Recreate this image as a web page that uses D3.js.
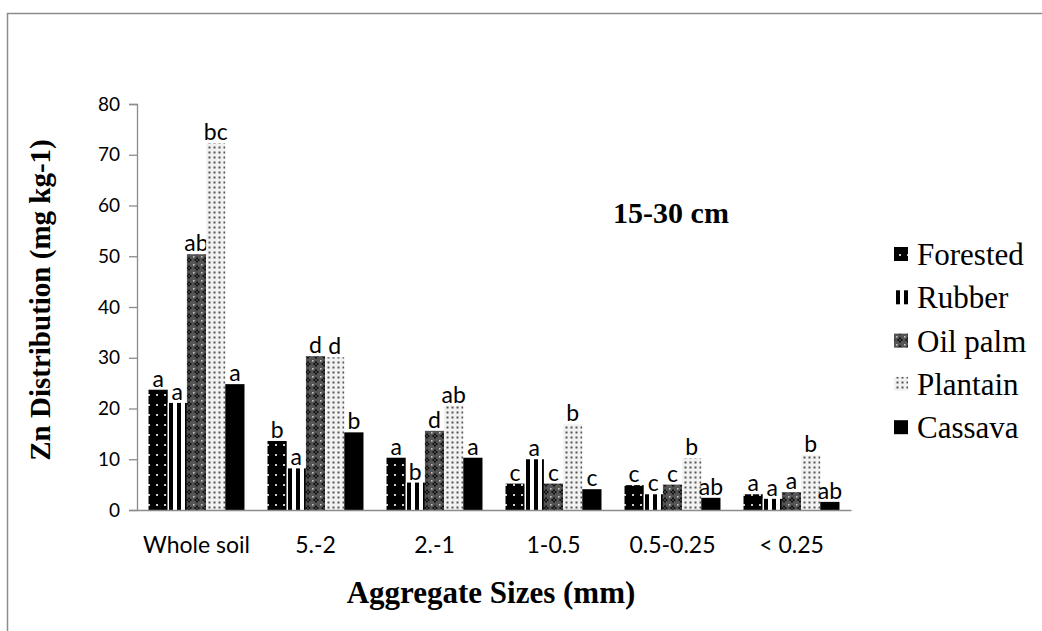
<!DOCTYPE html>
<html>
<head>
<meta charset="utf-8">
<script src="https://cdn.jsdelivr.net/npm/d3@7"></script>
<style>
  body { margin: 0; background: #fff; }
  svg { display: block; }
</style>
</head>
<body>
<svg></svg>
<script>
let width = 1042, height = 631;
let svg = d3.select("svg")
    .attr("width", width)
    .attr("height", height);

// data
var sizes = ["Whole soil", "5.-2", "2.-1", "1-0.5", "0.5-0.25", "< 0.25"];
var landUses = ["Forested", "Rubber", "Oil palm", "Plantain", "Cassava"];
var forested = [23.7, 13.6, 10.3, 5.2, 4.9, 3.1];
var rubber   = [21.1, 8.2, 5.4, 10.0, 3.1, 2.2];
var oilPalm  = [50.4, 30.3, 15.6, 5.2, 5.0, 3.5];
var plantain = [72.3, 30.1, 20.5, 16.9, 10.2, 10.8];
var cassava  = [24.8, 15.3, 10.3, 4.1, 2.4, 1.6];
var lettersForested = ["a", "b", "a", "c", "c", "a"];
var lettersRubber   = ["a", "a", "b", "a", "c", "a"];
var lettersOilPalm  = ["ab", "d", "d", "c", "c", "a"];
var lettersPlantain = ["bc", "d", "ab", "b", "b", "b"];
var lettersCassava  = ["a", "b", "a", "c", "ab", "ab"];
var yTicks = [0, 10, 20, 30, 40, 50, 60, 70, 80];

var series = [forested, rubber, oilPalm, plantain, cassava];
var letters = [lettersForested, lettersRubber, lettersOilPalm, lettersPlantain, lettersCassava];

var serif = "'Liberation Serif', 'Times New Roman', serif";
var sans = "Lato, 'Open Sans', sans-serif";

// chart frame
svg.append("path")
    .attr("d", "M7.5,631 V13.5 H1042")
    .attr("fill", "none")
    .attr("stroke", "#8c8c8c")
    .attr("stroke-width", 1.5);

// patterns
var defs = svg.append("defs");

var p0 = defs.append("pattern").attr("id", "pat0")
    .attr("patternUnits", "userSpaceOnUse").attr("width", 8).attr("height", 10);
p0.append("rect").attr("width", 8).attr("height", 10).attr("fill", "#000");
p0.append("rect").attr("x", 3).attr("y", 4).attr("width", 2).attr("height", 2).attr("fill", "#ccc");

var p1 = defs.append("pattern").attr("id", "pat1")
    .attr("patternUnits", "userSpaceOnUse").attr("width", 8).attr("height", 8);
p1.append("rect").attr("width", 8).attr("height", 8).attr("fill", "#fff");
p1.append("rect").attr("x", 0).attr("width", 4).attr("height", 8).attr("fill", "#000");

var p2 = defs.append("pattern").attr("id", "pat2")
    .attr("patternUnits", "userSpaceOnUse").attr("width", 8).attr("height", 8);
p2.append("rect").attr("width", 8).attr("height", 8).attr("fill", "#555");
p2.append("path").attr("d", "M4,0.5 L5,3 L7.5,4 L5,5 L4,7.5 L3,5 L0.5,4 L3,3 Z").attr("fill", "#000");
p2.append("rect").attr("x", 0).attr("y", 0).attr("width", 1.5).attr("height", 1.5).attr("fill", "#ccc");
p2.append("rect").attr("x", 3.4).attr("y", 3.4).attr("width", 1.2).attr("height", 1.2).attr("fill", "#aaa");

var p3 = defs.append("pattern").attr("id", "pat3")
    .attr("patternUnits", "userSpaceOnUse").attr("width", 5).attr("height", 5);
p3.append("rect").attr("width", 5).attr("height", 5).attr("fill", "#f2f2f2");
p3.append("rect").attr("x", 1.5).attr("y", 1.5).attr("width", 2).attr("height", 2).attr("fill", "#555");

var fills = ["url(#pat0)", "url(#pat1)", "url(#pat2)", "url(#pat3)", "#000"];

// scales
var x0 = d3.scaleBand()
    .domain(sizes)
    .range([137, 851]);

var x1 = d3.scaleBand()
    .domain(landUses)
    .range([0, x0.bandwidth()])
    .paddingOuter(0.6);

var y = d3.scaleLinear()
    .domain([0, 80])
    .range([510, 104]);

// bars
var groups = svg.append("g").selectAll("g")
    .data(sizes)
    .enter()
    .append("g")
    .attr("transform", function(d) { return "translate(" + x0(d) + ",0)"; });

groups.each(function(size, i) {
    var g = d3.select(this);
    for (var s = 0; s < landUses.length; s++) {
        g.append("rect")
            .attr("x", x1(landUses[s]))
            .attr("y", y(series[s][i]))
            .attr("width", x1.bandwidth())
            .attr("height", y(0) - y(series[s][i]))
            .attr("fill", fills[s]);
        g.append("text")
            .attr("x", x1(landUses[s]) + x1.bandwidth() / 2)
            .attr("y", y(series[s][i]) - 3)
            .attr("text-anchor", "middle")
            .attr("font-family", sans)
            .attr("font-size", 23)
            .attr("fill", "#000")
            .text(letters[s][i]);
    }
});

// y axis
var yAxis = svg.append("g")
    .attr("transform", "translate(137,0)")
    .call(d3.axisLeft(y).tickValues(yTicks).tickSize(8).tickPadding(9));
yAxis.select(".domain").attr("stroke", "#8c8c8c").attr("stroke-width", 1.3);
yAxis.selectAll(".tick line").attr("stroke", "#8c8c8c").attr("stroke-width", 1.3);
yAxis.selectAll(".tick text")
    .attr("font-family", sans)
    .attr("font-size", 19)
    .attr("fill", "#000");

// x axis
var xAxis = svg.append("g")
    .attr("transform", "translate(0,510)")
    .call(d3.axisBottom(x0).tickSize(0).tickPadding(27));
xAxis.select(".domain").attr("stroke", "#8c8c8c").attr("stroke-width", 1.5);
xAxis.selectAll(".tick text")
    .attr("font-family", sans)
    .attr("font-size", 23)
    .attr("fill", "#000");

// axis titles
svg.append("text")
    .attr("x", 491)
    .attr("y", 603)
    .attr("text-anchor", "middle")
    .attr("font-family", serif)
    .attr("font-weight", "bold")
    .attr("font-size", 31)
    .text("Aggregate Sizes (mm)");

svg.append("text")
    .attr("transform", "translate(50,300) rotate(-90)")
    .attr("text-anchor", "middle")
    .attr("font-family", serif)
    .attr("font-weight", "bold")
    .attr("font-size", 29)
    .text("Zn Distribution (mg kg-1)");

svg.append("text")
    .attr("x", 671)
    .attr("y", 223)
    .attr("text-anchor", "middle")
    .attr("font-family", serif)
    .attr("font-weight", "bold")
    .attr("font-size", 30)
    .text("15-30 cm");

// legend
for (var i = 0; i < landUses.length; i++) {
    svg.append("rect")
        .attr("x", 894)
        .attr("y", 247 + i * 43.3)
        .attr("width", 14)
        .attr("height", 14)
        .attr("fill", fills[i]);
    svg.append("text")
        .attr("x", 917)
        .attr("y", 265 + i * 43.3)
        .attr("font-family", serif)
        .attr("font-size", 31)
        .attr("fill", "#000")
        .text(landUses[i]);
}
</script>
</body>
</html>
